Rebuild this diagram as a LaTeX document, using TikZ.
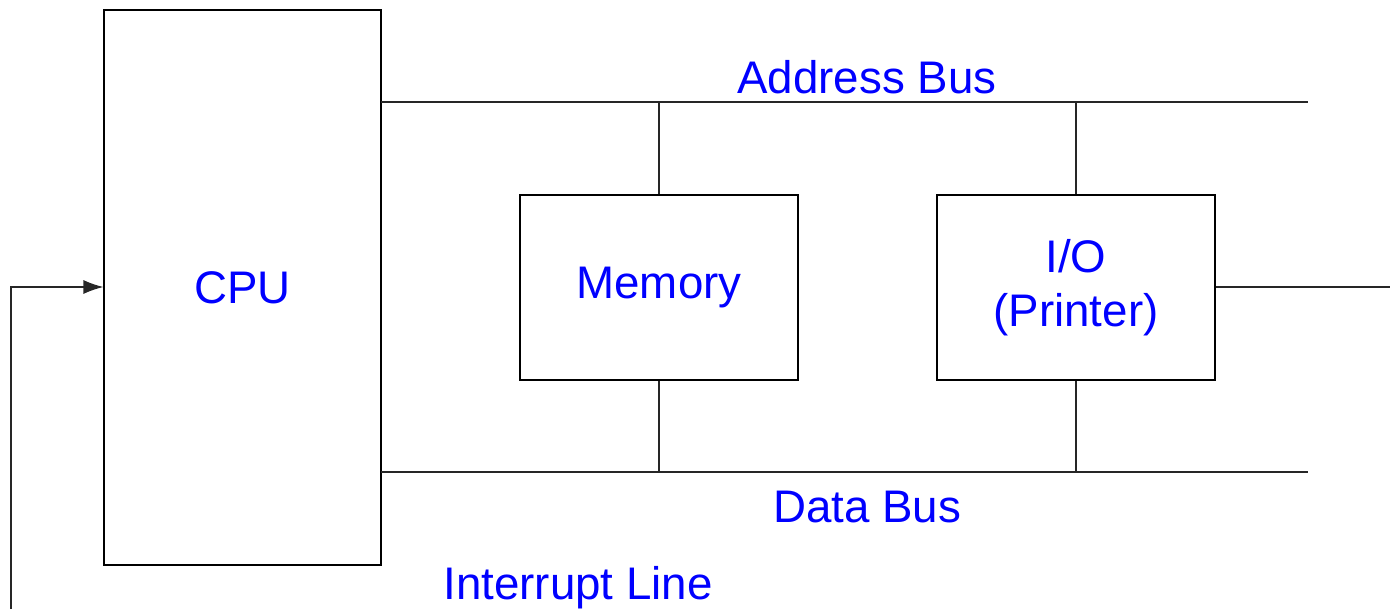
\documentclass[tikz,border=0pt]{standalone}
\usepackage{fontspec}
\setmainfont{Liberation Sans}
\usetikzlibrary{arrows.meta,calc}
\definecolor{lbl}{RGB}{0,0,255}
\begin{document}
\begin{tikzpicture}[x=0.02cm,y=-0.02cm,
  box/.style={draw=black,line width=0.7pt,inner sep=0pt,align=center,text=lbl,
    font=\fontsize{26}{31}\selectfont},
  wire/.style={draw=black!85,line width=0.7pt},
  lab/.style={text=lbl,font=\fontsize{26}{31}\selectfont,inner sep=0pt}]
\useasboundingbox (0,0) rectangle (1390,609);
\node[box,minimum width=5.54cm,minimum height=11.1cm] (cpu) at (242.5,287.5) {CPU};
\node[box,minimum width=5.56cm,minimum height=3.7cm] (mem) at (659,287.5) {Memory};
\node[box,minimum width=5.56cm,minimum height=3.7cm] (io) at (1076,287.5) {I/O\\(Printer)};
% bus ends
\coordinate (abL) at (381,102);
\coordinate (abR) at (1308,102);
\coordinate (dbL) at (381,472);
\coordinate (dbR) at (1308,472);
\coordinate (memA) at (659,102);
\coordinate (memD) at (659,472);
\coordinate (ioA) at (1076,102);
\coordinate (ioD) at (1076,472);
\coordinate (ioOut) at (1390,287);
\coordinate (intS) at (11,609);
\coordinate (intC) at (11,287);
\draw[wire] (abL) -- (abR);
\draw[wire] (dbL) -- (dbR);
\draw[wire] (memA) -- (mem.north);
\draw[wire] (mem.south) -- (memD);
\draw[wire] (ioA) -- (io.north);
\draw[wire] (io.south) -- (ioD);
\draw[wire] (io.east |- ioOut) -- (ioOut);
\draw[wire,-{Latex[length=0.4cm,width=0.28cm]}] (intS) -- (intC) -- (cpu.west |- intC);
\node[lab] (ab) at (867,77) {Address Bus};
\node[lab] (db) at (867,507) {Data Bus};
\node[lab] (il) at (578,588) {Interrupt Line};
\end{tikzpicture}
\end{document}
